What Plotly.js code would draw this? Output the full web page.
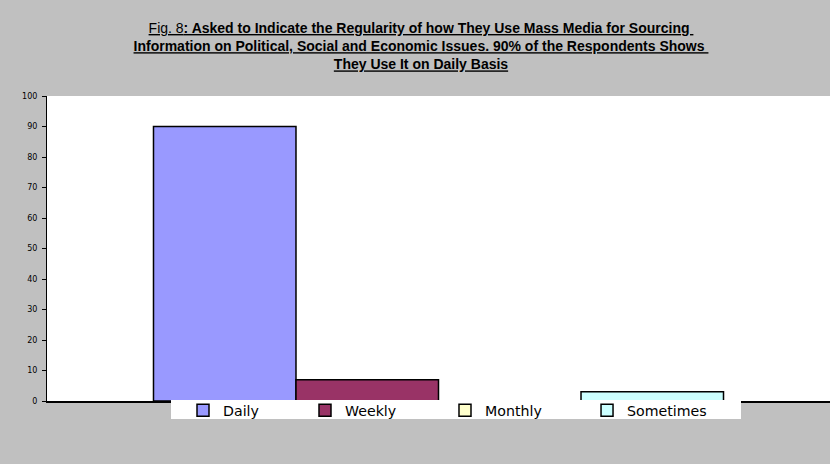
<!DOCTYPE html>
<html>
<head>
<meta charset="utf-8">
<script src="https://cdn.plot.ly/plotly-3.0.1.min.js"></script>
<style>
html,body{margin:0;padding:0;background:#C0C0C0;}
#chart{width:830px;height:464px;}
</style>
</head>
<body>
<div id="chart"></div>
<script>
const categories = ['Daily', 'Weekly', 'Monthly', 'Sometimes'];
const values = [90, 7, 0, 3];
const colors = ['#9999FF', '#993366', '#FFFFCC', '#CCFFFF'];
const group = ['Regularity'];
const yTicks = [0, 10, 20, 30, 40, 50, 60, 70, 80, 90, 100];
const legendX = [0.1737, 0.3295, 0.5083, 0.6897];

const titleText = '<u>Fig. 8</u><b><u>: Asked to Indicate the Regularity of how They Use Mass Media for Sourcing </u></b><br>' +
  '<b><u>Information on Political, Social and Economic Issues. 90% of the Respondents Shows </u></b><br>' +
  '<b><u>They Use It on Daily Basis</u></b>';

const legendNames = ['legend', 'legend2', 'legend3', 'legend4'];
const traces = categories.map((c, i) => ({
  type: 'bar',
  name: c,
  x: group,
  y: [values[i]],
  marker: {color: colors[i], line: {color: '#000000', width: 1.5}},
  legend: legendNames[i],
  showlegend: true,
  hoverinfo: 'name+y'
}));

const legendFont = {family: 'DejaVu Sans, Arial, sans-serif', size: 14.2, color: '#000000'};
const layout = {
  width: 830,
  height: 464,
  showlegend: true,
  paper_bgcolor: '#C0C0C0',
  plot_bgcolor: '#FFFFFF',
  margin: {l: 47, r: 0, t: 96, b: 63, pad: 0},
  barmode: 'group',
  bargap: 0.272,
  bargroupgap: 0,
  title: {
    text: titleText,
    font: {family: 'Liberation Sans Narrow, Arial Narrow, Liberation Sans, Arial, sans-serif', size: 14, color: '#000000'},
    x: 421 / 830,
    xref: 'container',
    xanchor: 'center',
    y: 1 - 33 / 464,
    yref: 'container',
    yanchor: 'top'
  },
  xaxis: {
    type: 'category',
    showticklabels: false,
    ticks: '',
    showgrid: false,
    zeroline: false,
    showline: true,
    linecolor: '#000000',
    linewidth: 2,
    fixedrange: true
  },
  yaxis: {
    range: [0, 100],
    tickvals: yTicks,
    ticktext: yTicks.map(String),
    ticks: 'outside',
    ticklen: 4,
    tickwidth: 1,
    tickcolor: '#000000',
    ticklabelstandoff: 3,
    showgrid: false,
    zeroline: false,
    showline: true,
    linecolor: '#000000',
    linewidth: 1,
    tickfont: {family: 'DejaVu Sans, Arial, sans-serif', size: 8, color: '#000000'},
    fixedrange: true
  },
  shapes: [{
    type: 'rect', xref: 'paper', yref: 'paper', layer: 'above',
    x0: (171 - 47) / 783, x1: (741 - 47) / 783,
    y0: (401 - 400) / 305, y1: (401 - 419) / 305,
    fillcolor: '#FFFFFF', line: {width: 0}
  }]
};
legendNames.forEach((ln, i) => {
  layout[ln] = {
    orientation: 'h',
    visible: true,
    x: legendX[i], xanchor: 'left',
    y: (401 - 410.5) / 305, yanchor: 'middle',
    bgcolor: 'rgba(0,0,0,0)',
    borderwidth: 0,
    font: legendFont
  };
});

Plotly.newPlot('chart', traces, layout, {displayModeBar: false, staticPlot: true});
</script>
</body>
</html>
